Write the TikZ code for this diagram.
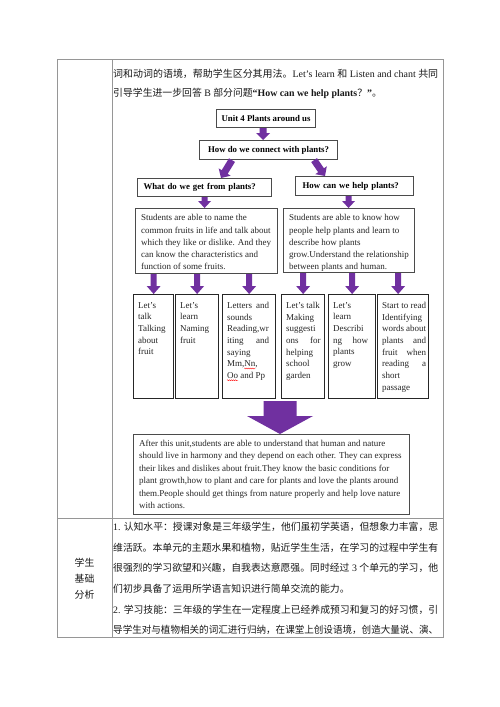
\documentclass[tikz,border=0pt]{standalone}
\usepackage{fontspec}
\setmainfont{Liberation Serif}
\newfontfamily\cjk{Noto Sans CJK SC}
\usetikzlibrary{calc,decorations.pathmorphing}
\definecolor{tablegray}{RGB}{150,150,150}
\definecolor{boxgray}{RGB}{75,75,75}
\definecolor{arrowpurple}{RGB}{112,48,160}
\newsavebox\linebox
\newcommand\fitto[2]{\sbox\linebox{#2}\pgfmathsetmacro\fitsc{#1/\wd\linebox}\scalebox{\fitsc}[1]{\usebox\linebox}}
% #1 start, #2 end (named coordinates), #3 half shaft, #4 half head, #5 head length
\newcommand\blockarrow[5]{%
  \path ($(#2)!#5!(#1)$) coordinate (ahb);
  \fill[arrowpurple] ($(#1)!#3!90:(#2)$) -- ($(ahb)!#3!90:(#2)$) -- ($(ahb)!#4!90:(#2)$) -- (#2)
    -- ($(ahb)!#4!-90:(#2)$) -- ($(ahb)!#3!-90:(#2)$) -- ($(#1)!#3!-90:(#2)$) -- cycle;
}
\begin{document}
\begin{tikzpicture}[x=1pt,y=-1pt,
  tbl/.style={draw=tablegray, line width=0.9pt},
  hdr/.style={draw=boxgray, line width=1.1pt, anchor=north west, inner sep=0pt, font=\fontsize{8.8}{10}\selectfont\bfseries},
  panel/.style={draw=boxgray, line width=1.1pt, anchor=north west, inner sep=0pt},
  cellbox/.style={draw=black!85, line width=1.3pt, anchor=north west, inner sep=0pt, minimum height=104pt},
  body/.style={anchor=north west, inner sep=0pt, align=left, text=black!85},
  stu/.style={body, font=\fontsize{9}{12.2}\selectfont},
  celltxt/.style={body, font=\fontsize{9}{11.7}\selectfont},
  fin/.style={body, font=\fontsize{9}{12.4}\selectfont},
  rowtxt/.style={anchor=base west, inner sep=0pt, font=\fontsize{9.85}{12}\selectfont, text=black!90},
  lab/.style={inner sep=0pt, font=\fontsize{9.85}{12}\selectfont\cjk, text=black!90},
  wavy/.style={draw=red, line width=0.4pt, decorate, decoration={snake, amplitude=0.5pt, segment length=2pt}}
]
\fill[white] (0,0) rectangle (500,707);
\useasboundingbox (0,0) rectangle (500,707);

% ---------- table ----------
\node[tbl, anchor=north west, minimum width=386pt, minimum height=578pt, inner sep=0pt] (tab) at (57,59) {};
\coordinate (colt) at ($(tab.north west)+(55,0)$);
\coordinate (colb) at ($(tab.south west)+(55,0)$);
\draw[tbl] (colt) -- (colb);
\coordinate (rowl) at ($(tab.north west)+(0,459)$);
\coordinate (rowr) at ($(tab.north east)+(0,459)$);
\draw[tbl] (rowl) -- (rowr);

% ---------- row 1 text ----------
\node[rowtxt] (r1a) at (113,77) {\fitto{325}{{\cjk 词和动词的语境，帮助学生区分其用法。}Let's learn {\cjk 和} Listen and chant {\cjk 共同}}};
\node[rowtxt] (r1b) at (113,96.5) {{\cjk 引导学生进一步回答} B {\cjk 部分问题}\textbf{“How can we help plants}{\cjk ？}\textbf{”}{\cjk 。}};

% ---------- diagram ----------
\node[hdr, minimum width=99pt, minimum height=18pt] (unit) at (216,109) {Unit 4 Plants around us};
\node[hdr, minimum width=138pt, minimum height=19pt] (conn) at (199,140) {How do we connect with plants?};
\node[hdr, minimum height=18pt, text width=122pt, align=left, inner xsep=6pt] (what) at (137,178) {What do we get from plants?};
\node[hdr, minimum height=19pt, text width=104pt, align=left, inner xsep=7pt] (howc) at (295,176) {How can we help plants?};

\node[panel, minimum width=142pt, minimum height=65pt] (sl) at (135,208) {};
\node[panel, minimum width=131pt, minimum height=64pt] (sr) at (283,208) {};
\node[stu] (slt) at (141,214.5) {Students are able to name the\\common fruits in life and talk about\\which they like or dislike. And they\\can know the characteristics and\\function of some fruits.};
\node[stu] (srt) at (289,214.5) {Students are able to know how\\people help plants and learn to\\describe how plants\\grow.Understand the relationship\\between plants and human.};

\node[cellbox, minimum width=40pt] (c1) at (133,294) {};
\node[cellbox, minimum width=43pt] (c2) at (175,294) {};
\node[cellbox, minimum width=53pt] (c3) at (222,294) {};
\node[cellbox, minimum width=43pt] (c4) at (281,294) {};
\node[cellbox, minimum width=47pt] (c5) at (328,294) {};
\node[cellbox, minimum width=51pt] (c6) at (377,294) {};

\node[celltxt] (c1t) at ($(c1.north west)+(5,8)$) {Let's\\talk\\Talking\\about\\fruit};
\node[celltxt] (c2t) at ($(c2.north west)+(5,8)$) {Let's\\learn\\Naming\\fruit};
\node[celltxt] (c3t) at ($(c3.north west)+(5,8)$) {\makebox[42pt][s]{Letters and}\\sounds\\Reading,wr\\\makebox[42pt][s]{iting and}\\saying\\Mm,Nn,\\Oo and Pp};
\node[celltxt] (c4t) at ($(c4.north west)+(5,8)$) {Let's talk\\Making\\suggesti\\\makebox[34.5pt][s]{ons for}\\helping\\school\\garden};
\node[celltxt] (c5t) at ($(c5.north west)+(5,8)$) {Let's\\learn\\Describi\\\makebox[35pt][s]{ng how}\\plants\\grow};
\node[celltxt] (c6t) at ($(c6.north west)+(5,8)$) {Start to read\\Identifying\\\makebox[44pt][s]{words about}\\\makebox[44pt][s]{plants and}\\\makebox[44pt][s]{fruit when}\\\makebox[44pt][s]{reading a}\\short\\passage};

\coordinate (w1s) at ($(c3t.north west)+(17.3,66.5)$);
\coordinate (w1e) at ($(c3t.north west)+(28.3,66.5)$);
\coordinate (w2s) at ($(c3t.north west)+(0,78.2)$);
\coordinate (w2e) at ($(c3t.north west)+(11,78.2)$);
\draw[wavy] (w1s) -- (w1e);
\draw[wavy] (w2s) -- (w2e);

\node[panel, minimum width=276pt, minimum height=80pt] (final) at (133,434) {};
\node[fin] (fint) at (139,440) {After this unit,students are able to understand that human and nature\\should live in harmony and they depend on each other. They can express\\their likes and dislikes about fruit.They know the basic conditions for\\plant growth,how to plant and care for plants and love the plants around\\them.People should get things from nature properly and help love nature\\with actions.};

% ---------- arrows ----------
\coordinate (u1) at ($(unit.south)+(-3,0)$);
\coordinate (u2) at ($(conn.north west)!(u1)!(conn.north east)$);
\blockarrow{u1}{u2}{3.5pt}{7pt}{7pt}
\coordinate (d1s) at ($(conn.south west)+(33,0)$);
\coordinate (d1e) at ($(what.north west)+(84,0)$);
\blockarrow{d1s}{d1e}{3.5pt}{7pt}{7pt}
\coordinate (d2s) at ($(conn.south east)+(-24,0)$);
\coordinate (d2e) at ($(howc.north west)+(30,0)$);
\blockarrow{d2s}{d2e}{3.5pt}{7pt}{7pt}
\coordinate (e1s) at (what.south);
\coordinate (e1e) at ($(sl.north west)!(e1s)!(sl.north east)$);
\blockarrow{e1s}{e1e}{3pt}{6.5pt}{7pt}
\coordinate (e2s) at ($(howc.south)+(-6,0)$);
\coordinate (e2e) at ($(sr.north west)!(e2s)!(sr.north east)$);
\blockarrow{e2s}{e2e}{3pt}{6.5pt}{7pt}

\coordinate (k1e) at (c1.north);
\coordinate (k2e) at (c2.north);
\coordinate (k3e) at (c3.north);
\coordinate (k4e) at (c4.north);
\coordinate (k5e) at (c5.north);
\coordinate (k6e) at ($(c6.north)+(-5,0)$);
\coordinate (k1s) at ($(sl.south west)!(k1e)!(sl.south east)$);
\coordinate (k2s) at ($(sl.south west)!(k2e)!(sl.south east)$);
\coordinate (k3s) at ($(sl.south west)!(k3e)!(sl.south east)$);
\coordinate (k4s) at ($(sr.south west)!(k4e)!(sr.south east)$);
\coordinate (k5s) at ($(sr.south west)!(k5e)!(sr.south east)$);
\coordinate (k6s) at ($(sr.south west)!(k6e)!(sr.south east)$);
\blockarrow{k1s}{k1e}{3pt}{7pt}{8pt}
\blockarrow{k2s}{k2e}{3pt}{7pt}{8pt}
\blockarrow{k3s}{k3e}{3pt}{7pt}{8pt}
\blockarrow{k4s}{k4e}{3pt}{7pt}{8pt}
\blockarrow{k5s}{k5e}{3pt}{7pt}{8pt}
\blockarrow{k6s}{k6e}{3pt}{7pt}{8pt}

\coordinate (bt) at (280,401);
\coordinate (be) at ($(final.north west)!(bt)!(final.north east)$);
\blockarrow{bt}{be}{16.5pt}{33pt}{18pt}

% ---------- row 2 ----------
\node[lab] (lab1) at (84.5,563) {学生};
\node[lab] (lab2) at (84.5,579) {基础};
\node[lab] (lab3) at (84.5,595) {分析};

\node[rowtxt] (r2a) at (113,530.5) {\fitto{325}{1. {\cjk 认知水平：授课对象是三年级学生，他们虽初学英语，但想象力丰富，思}}};
\node[rowtxt] (r2b) at (113,551) {\fitto{325}{{\cjk 维活跃。本单元的主题水果和植物，贴近学生生活，在学习的过程中学生有}}};
\node[rowtxt] (r2c) at (113,571.7) {\fitto{325}{{\cjk 很强烈的学习欲望和兴趣，自我表达意愿强。同时经过} 3 {\cjk 个单元的学习，他}}};
\node[rowtxt] (r2d) at (113,592.3) {{\cjk 们初步具备了运用所学语言知识进行简单交流的能力。}};
\node[rowtxt] (r2e) at (113,613) {\fitto{325}{2. {\cjk 学习技能：三年级的学生在一定程度上已经养成预习和复习的好习惯，引}}};
\node[rowtxt] (r2f) at (113,633.5) {\fitto{325}{{\cjk 导学生对与植物相关的词汇进行归纳，在课堂上创设语境，创造大量说、演、}}};
\end{tikzpicture}
\end{document}
